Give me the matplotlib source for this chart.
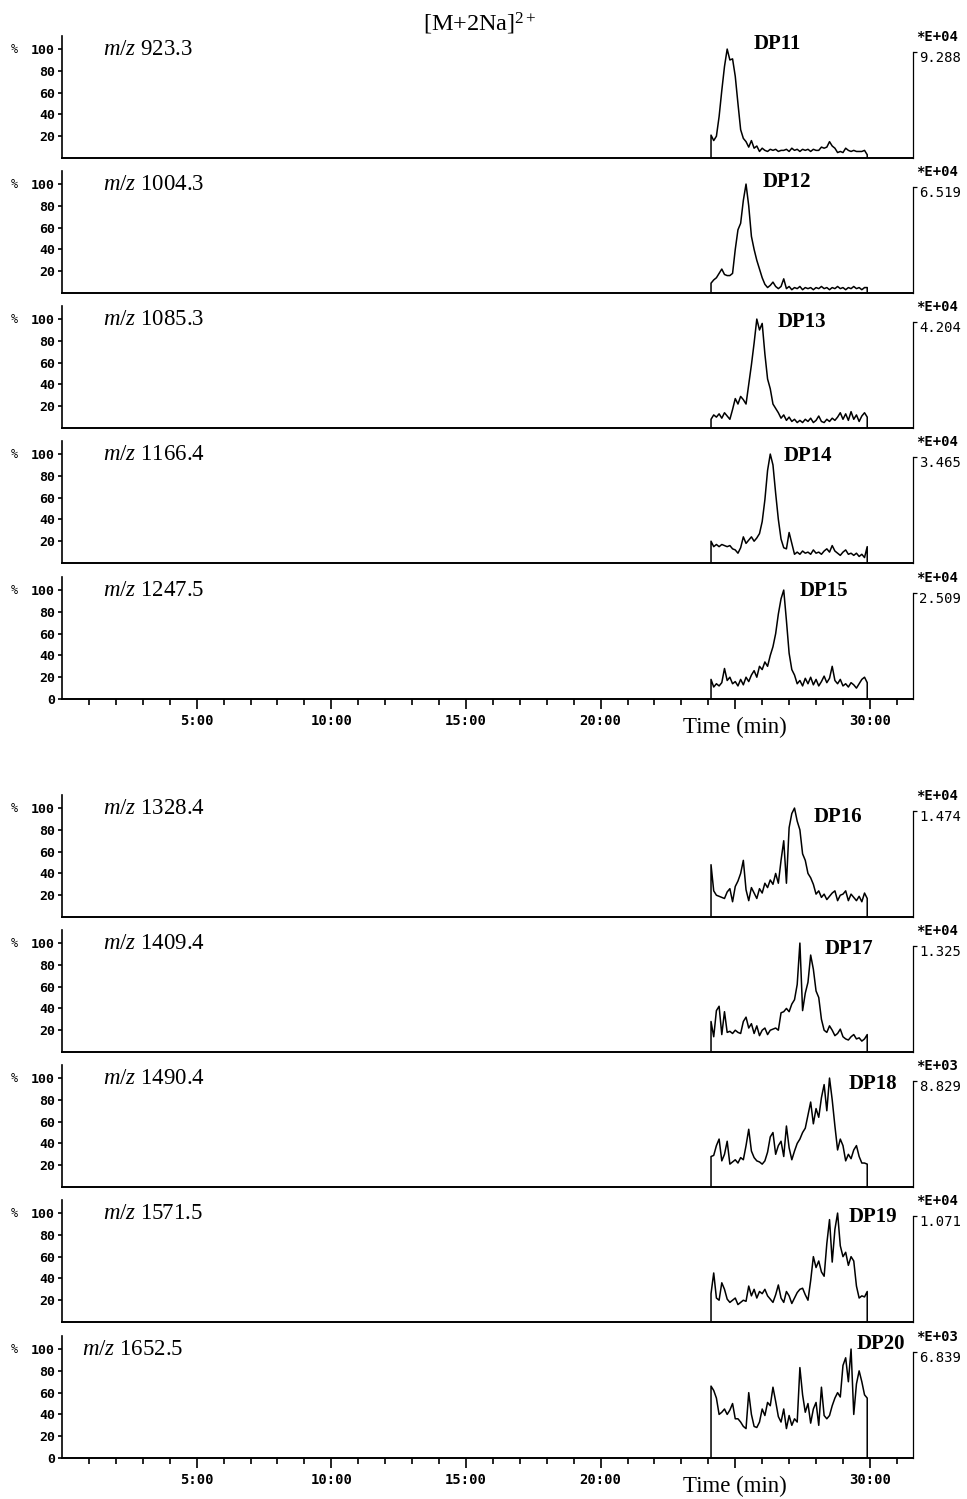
import numpy as np
import matplotlib
matplotlib.use('Agg')
import matplotlib.pyplot as plt
import matplotlib.transforms as mtransforms

plt.rcParams['font.family'] = 'DejaVu Sans Mono'
plt.rcParams['mathtext.fontset'] = 'custom'
plt.rcParams['mathtext.rm'] = 'Liberation Serif'
plt.rcParams['mathtext.it'] = 'Liberation Serif:italic'
plt.rcParams['mathtext.bf'] = 'Liberation Serif:bold'

# sampling grid of the extracted ion chromatograms (min)
scan_start = 24.1
scan_step = 0.1

mz_values = ['923.3', '1004.3', '1085.3', '1166.4', '1247.5',
             '1328.4', '1409.4', '1490.4', '1571.5', '1652.5']
dp_names = ['DP11', 'DP12', 'DP13', 'DP14', 'DP15',
            'DP16', 'DP17', 'DP18', 'DP19', 'DP20']
scale_mantissa = ['9.288', '6.519', '4.204', '3.465', '2.509',
                  '1.474', '1.325', '8.829', '1.071', '6.839']
scale_exponent = ['04', '04', '04', '04', '04', '04', '04', '03', '04', '03']

# relative intensity (%), one value per 0.1 min
dp11 = [21, 16, 20, 38, 62, 84, 100, 90, 91, 75, 50, 26, 18, 15, 10, 16, 9, 11, 6, 9,
        7, 6, 8, 7, 8, 6, 7, 7, 8, 6, 9, 7, 8, 6, 8, 7, 8, 6, 8, 7,
        7, 10, 9, 10, 15, 11, 9, 5, 6, 5, 9, 7, 6, 7, 6, 6, 6, 7, 3]
dp12 = [9, 12, 14, 18, 22, 17, 16, 16, 18, 40, 58, 64, 85, 100, 80, 52, 40, 30, 22, 14,
        8, 5, 7, 10, 6, 4, 6, 13, 4, 6, 3, 5, 4, 6, 3, 5, 4, 5, 3, 5,
        4, 6, 4, 5, 3, 5, 4, 6, 4, 5, 3, 5, 4, 6, 4, 5, 3, 5, 5]
dp13 = [8, 12, 10, 13, 9, 14, 11, 8, 17, 27, 22, 29, 26, 22, 40, 58, 78, 100, 90, 96,
        68, 45, 36, 22, 18, 14, 9, 12, 7, 10, 6, 8, 5, 7, 5, 8, 6, 9, 5, 7,
        11, 6, 5, 8, 6, 9, 7, 10, 14, 8, 13, 7, 15, 8, 12, 6, 11, 14, 10]
dp14 = [20, 15, 17, 15, 17, 16, 15, 16, 13, 12, 9, 14, 24, 18, 21, 24, 20, 23, 27, 38,
        58, 85, 100, 90, 64, 40, 22, 14, 13, 28, 18, 8, 10, 8, 11, 9, 10, 8, 12, 9,
        10, 8, 11, 13, 10, 16, 11, 9, 7, 10, 12, 8, 9, 7, 9, 6, 8, 5, 15]
dp15 = [18, 11, 14, 12, 15, 28, 17, 20, 14, 16, 12, 18, 13, 20, 16, 22, 26, 20, 30, 27,
        34, 30, 40, 48, 60, 78, 92, 100, 72, 42, 27, 22, 14, 17, 12, 19, 14, 20, 13, 18,
        12, 16, 21, 15, 19, 30, 17, 14, 18, 12, 14, 11, 15, 13, 10, 14, 18, 20, 15]
dp16 = [48, 24, 20, 19, 18, 17, 23, 26, 14, 28, 33, 40, 52, 25, 15, 27, 22, 17, 26, 22,
        31, 27, 34, 30, 40, 31, 52, 70, 31, 82, 95, 100, 88, 80, 58, 52, 40, 36, 30, 21,
        24, 18, 21, 16, 19, 22, 24, 15, 20, 21, 24, 15, 21, 18, 15, 19, 14, 22, 17]
dp17 = [28, 14, 38, 42, 16, 37, 18, 19, 17, 20, 18, 17, 28, 32, 22, 26, 17, 24, 15, 20,
        22, 16, 20, 21, 22, 20, 36, 37, 40, 37, 44, 48, 62, 100, 38, 54, 64, 89, 76, 56,
        50, 30, 20, 18, 24, 20, 15, 17, 21, 14, 12, 11, 14, 16, 12, 13, 10, 12, 16]
dp18 = [28, 29, 38, 44, 24, 30, 42, 21, 23, 25, 22, 27, 25, 38, 53, 33, 27, 24, 23, 21,
        24, 32, 46, 50, 30, 38, 42, 28, 56, 36, 25, 33, 40, 44, 50, 54, 66, 78, 58, 72,
        64, 82, 94, 70, 100, 80, 56, 34, 44, 38, 24, 30, 26, 34, 38, 28, 22, 22, 21]
dp19 = [26, 45, 22, 20, 36, 30, 21, 18, 20, 22, 16, 18, 20, 19, 33, 24, 30, 22, 28, 26,
        30, 24, 21, 18, 25, 34, 22, 18, 28, 24, 17, 22, 27, 30, 31, 25, 20, 38, 60, 50,
        56, 46, 42, 72, 94, 55, 85, 100, 70, 60, 64, 52, 60, 56, 33, 22, 24, 23, 28]
dp20 = [66, 62, 55, 40, 42, 45, 40, 44, 50, 36, 36, 33, 29, 27, 60, 40, 29, 28, 33, 45,
        39, 51, 48, 65, 52, 38, 33, 45, 27, 39, 30, 36, 33, 83, 58, 42, 50, 32, 45, 51,
        30, 65, 39, 36, 39, 48, 55, 60, 56, 85, 92, 70, 100, 40, 68, 80, 70, 58, 55]

traces = [dp11, dp12, dp13, dp14, dp15, dp16, dp17, dp18, dp19, dp20]

x_ticks = [5, 10, 15, 20, 25, 30]
x_tick_labels = ['5:00', '10:00', '15:00', '20:00', '', '30:00']

# layout (pixels of the 967x1499 page)
W, H = 967.0, 1499.0
x_left, x_right = 62, 913
t_max = 31.6
y_top = 112
axis_px = 122
baselines = [158, 293, 428, 563, 699, 917, 1052, 1187, 1322, 1458]
bottom_panels = [4, 9]
mz_x = [0.048] * 9 + [0.0235]
dp_pos = [(26.55, 105), (26.92, 102), (27.48, 97), (27.70, 98), (28.30, 99),
          (28.82, 92), (29.22, 95), (30.11, 95), (30.11, 96), (30.41, 105)]

fig = plt.figure(figsize=(9.67, 14.99), dpi=100)

for i, (base, vals) in enumerate(zip(baselines, traces)):
    ax = fig.add_axes([x_left / W, 1 - base / H, (x_right - x_left) / W, axis_px / H])
    t = scan_start + scan_step * np.arange(len(vals))
    x = np.concatenate([[t[0]], t, [t[-1]]])
    y = np.concatenate([[0], vals, [0]])
    ax.plot(x, y, color='black', lw=1.1)
    ax.set_xlim(0, t_max)
    ax.set_ylim(0, y_top)

    ax.spines['top'].set_visible(False)
    ax.spines['right'].set_visible(False)
    ax.spines['left'].set_linewidth(1.2)
    ax.spines['bottom'].set_linewidth(1.4)

    # right scale bracket
    twin = ax.twinx()
    twin.set_ylim(0, y_top)
    for s in ['left', 'top', 'bottom']:
        twin.spines[s].set_visible(False)
    twin.spines['right'].set_bounds(0, 97)
    twin.spines['right'].set_linewidth(0.9)
    twin.set_yticks([97])
    twin.set_yticklabels([])
    twin.tick_params(axis='y', length=3, width=0.9, direction='out')

    if i in bottom_panels:
        ax.set_yticks([0, 20, 40, 60, 80, 100])
        ax.set_xticks(x_ticks)
        ax.set_xticklabels(x_tick_labels, fontweight='bold')
        ax.set_xticks([m for m in range(1, 32) if m % 5], minor=True)
        ax.tick_params(axis='x', which='major', length=7, width=1.2, pad=4, labelsize=10)
        ax.tick_params(axis='x', which='minor', length=4.5, width=1.2)
        ax.text(25, -26.5, 'Time (min)', ha='center', va='center', fontsize=16.5,
                family='Liberation Serif', clip_on=False)
    else:
        ax.set_yticks([20, 40, 60, 80, 100])
        ax.set_xticks([])
    ax.tick_params(axis='y', length=3, width=1.2, pad=2, labelsize=9.5)
    for lab in ax.get_yticklabels():
        lab.set_fontweight('bold')

    trans = mtransforms.blended_transform_factory(ax.transAxes, ax.transData)
    ax.text(-0.0564, 100, '%', transform=trans, ha='center', va='center', fontsize=8.5)
    ax.text(mz_x[i], 100, r'$m/z$ ' + mz_values[i], transform=trans, ha='left',
            va='center', fontsize=16.5, family='Liberation Serif')
    ax.text(dp_pos[i][0], dp_pos[i][1], dp_names[i], ha='center', va='center',
            fontsize=15, fontweight='bold', family='Liberation Serif', clip_on=False)
    ax.text(1.004, 111, '*E+' + scale_exponent[i], transform=trans, ha='left',
            va='center', fontsize=10, fontweight='bold', clip_on=False)
    ax.text(1.007, 92, scale_mantissa[i], transform=trans, ha='left',
            va='center', fontsize=10, clip_on=False)

fig.text(480 / W, 1 - 24 / H, r'[M+2Na]$^{2+}$', ha='center', va='center',
         fontsize=17.5, family='Liberation Serif')

fig.savefig('out.png', dpi=100)
